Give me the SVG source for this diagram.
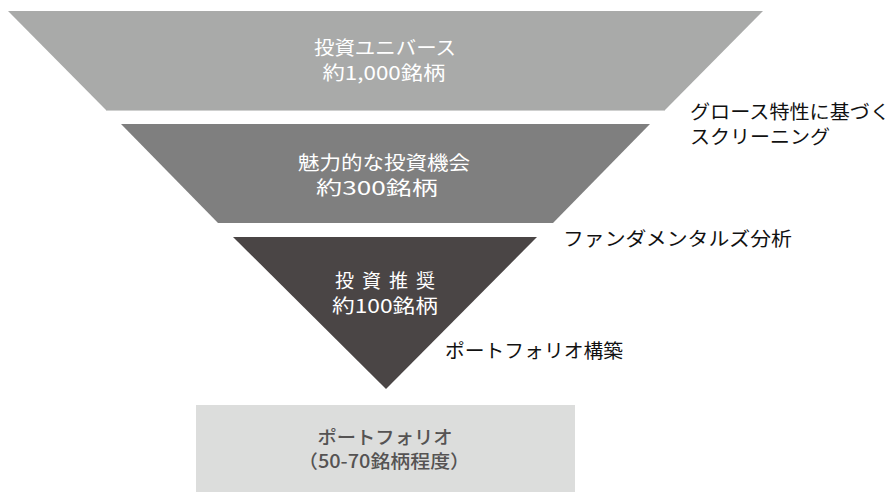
<svg xmlns="http://www.w3.org/2000/svg" width="890" height="492" viewBox="0 0 890 492">
<style>
text{font-family:"Noto Sans CJK JP","Noto Sans",sans-serif;font-size:19px;font-weight:400;}
.w{fill:#ffffff;text-anchor:middle;}
.d{fill:#555353;text-anchor:middle;font-size:18.5px;font-weight:500;}
.k{fill:#111111;font-size:19px;}
</style>
<rect width="890" height="492" fill="#ffffff"/>
<g id="universe">
<polygon points="8,11 763,11 665,110 106,110" fill="#a9aaa9"/>
<line x1="106" y1="110.5" x2="665" y2="110.5" stroke="#cfd0cf" stroke-width="1"/>
<text class="w" x="385" y="55" textLength="142" lengthAdjust="spacingAndGlyphs">投資ユニバース</text>
<text class="w" x="384" y="80" textLength="123" lengthAdjust="spacingAndGlyphs">約1,000銘柄</text>
</g>
<g id="opportunity">
<polygon points="121,124 650,124 553,223 218,223" fill="#7f7f7f"/>
<text class="w" x="384" y="170" textLength="172" lengthAdjust="spacingAndGlyphs">魅力的な投資機会</text>
<text class="w" x="377" y="195" textLength="122" lengthAdjust="spacingAndGlyphs">約300銘柄</text>
</g>
<g id="recommend">
<polygon points="233,237 537,237 386,389" fill="#4a4545"/>
<text class="w" x="385" y="288" textLength="100" lengthAdjust="spacing">投資推奨</text>
<text class="w" x="385" y="313" textLength="106" lengthAdjust="spacingAndGlyphs">約100銘柄</text>
</g>
<g id="portfolio">
<rect x="196" y="405" width="379" height="87" fill="#dcdddc"/>
<text class="d" x="385" y="444" textLength="135" lengthAdjust="spacingAndGlyphs">ポートフォリオ</text>
<text class="d" x="384" y="468" textLength="172" lengthAdjust="spacingAndGlyphs">（50-70銘柄程度）</text>
</g>
<g id="connectors">
<text class="k" x="690" y="119" textLength="200" lengthAdjust="spacingAndGlyphs">グロース特性に基づく</text>
<text class="k" x="690" y="144" textLength="140" lengthAdjust="spacingAndGlyphs">スクリーニング</text>
<text class="k" x="563" y="246" textLength="229" lengthAdjust="spacingAndGlyphs">ファンダメンタルズ分析</text>
<text class="k" x="445" y="358" textLength="178" lengthAdjust="spacingAndGlyphs">ポートフォリオ構築</text>
</g>
</svg>
